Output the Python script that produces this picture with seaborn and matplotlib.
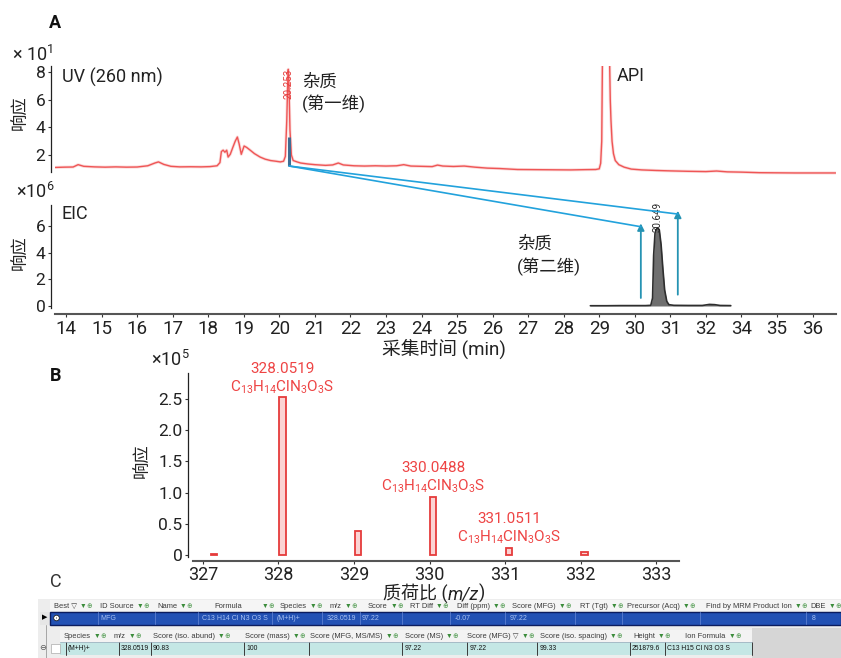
import matplotlib
matplotlib.use("Agg")
import matplotlib.pyplot as plt
from matplotlib.patches import ConnectionPatch, Rectangle, Circle
import seaborn as sns

# ---------------- data ----------------
# first dimension UV trace (x10^1)
uv_time = [13.70, 13.95, 14.20, 14.34, 14.50, 14.80, 15.10, 15.40, 15.70, 16.00,
           16.30, 16.50, 16.60, 16.75, 16.95, 17.20, 17.50, 17.80, 18.05, 18.25,
           18.33, 18.37, 18.42, 18.47, 18.52, 18.56, 18.62, 18.70, 18.76, 18.82,
           18.87, 18.93, 19.01, 19.08, 19.18, 19.30, 19.46, 19.60, 19.75, 19.90,
           20.03, 20.12, 20.17, 20.21, 20.24, 20.253, 20.27, 20.30, 20.34, 20.39,
           20.50, 20.60, 20.80, 21.00, 21.30, 21.50, 21.66, 21.80, 22.10, 22.40,
           22.70, 23.00, 23.30, 23.50, 23.70, 24.00, 24.30, 24.45, 24.60, 24.90,
           25.20, 25.50, 25.85, 26.20, 26.70, 27.20, 27.70, 28.20, 28.60, 28.90,
           29.00, 29.04, 29.07, 29.09, 29.15, 29.22, 29.27, 29.29, 29.31, 29.33,
           29.36, 29.40, 29.45, 29.55, 29.70, 29.90, 30.20, 30.60, 31.00, 31.50,
           32.00, 32.30, 32.60, 33.00, 33.50, 34.00, 34.50, 35.00, 35.65]
uv_signal = [1.10, 1.12, 1.13, 1.30, 1.18, 1.14, 1.12, 1.14, 1.12, 1.13,
             1.22, 1.42, 1.50, 1.32, 1.18, 1.14, 1.15, 1.14, 1.16, 1.22,
             1.45, 2.25, 2.35, 2.20, 2.35, 1.85, 2.05, 2.60, 3.00, 3.30,
             2.80, 2.05, 2.65, 2.55, 2.35, 2.10, 1.85, 1.70, 1.60, 1.55,
             1.50, 1.55, 1.90, 4.50, 7.60, 8.20, 7.20, 3.80, 2.00, 1.60,
             1.50, 1.42, 1.35, 1.30, 1.25, 1.28, 1.42, 1.28, 1.22, 1.20,
             1.22, 1.20, 1.22, 1.30, 1.20, 1.18, 1.16, 1.27, 1.20, 1.17,
             1.20, 1.12, 1.05, 1.02, 0.95, 0.94, 0.93, 0.92, 0.94, 0.95,
             1.00, 1.40, 3.00, 9.00, 20.0, 20.0, 14.0, 9.00, 6.00, 4.50,
             3.00, 2.10, 1.60, 1.30, 1.12, 0.98, 0.92, 0.88, 0.85, 0.82,
             0.80, 0.84, 0.78, 0.76, 0.72, 0.71, 0.70, 0.70, 0.70]

# second dimension extracted ion chromatogram (x10^6)
eic_time = [28.75, 29.20, 29.60, 30.00, 30.30, 30.45, 30.50, 30.53, 30.57, 30.61,
            30.649, 30.69, 30.74, 30.79, 30.84, 30.90, 30.96, 31.10, 31.50, 31.90,
            32.10, 32.25, 32.40, 32.70]
eic_signal = [0.02, 0.02, 0.03, 0.03, 0.03, 0.05, 0.60, 3.80, 5.50, 5.75,
              5.85, 5.70, 4.60, 2.80, 1.20, 0.35, 0.10, 0.05, 0.04, 0.04,
              0.12, 0.10, 0.04, 0.03]

uv_peak_rt = 20.253
eic_peak_rt = 30.649
cut_start_signal = 1.2
cut_top_signal = 3.3

rt_ticks = list(range(14, 36))
rt_tick_labels = [str(v) for v in range(14, 33)] + ["34", "35", "36"]
uv_ticks = [2, 4, 6, 8]
eic_ticks = [0, 2, 4, 6]

# mass spectrum (x10^5)
ms_mz = [327.15, 328.0519, 329.055, 330.0488, 331.0511, 332.05]
ms_intensity = [0.012, 2.519, 0.38, 0.93, 0.12, 0.05]
labelled_mz = [328.0519, 330.0488, 331.0511]
labelled_intensity = [2.519, 0.93, 0.12]
ion_formula = "C$_{13}$H$_{14}$ClN$_{3}$O$_{3}$S"
ms_xticks = [327, 328, 329, 330, 331, 332, 333]
ms_yticks = [0, 0.5, 1.0, 1.5, 2.0, 2.5]
ms_ytick_labels = ["0", "0.5", "1.0", "1.5", "2.0", "2.5"]

# results table
hdr_main = [(54, "Best ▽", 2), (100, "ID Source", 2), (157, "Name", 2), (214, "Formula", 14),
            (280, "Species", 2), (330, "m/z", 2), (368, "Score", 2), (410, "RT Diff", 2),
            (457, "Diff (ppm)", 2), (512, "Score (MFG)", 2), (580, "RT (Tgt)", 2),
            (627, "Precursor (Acq)", 2), (706, "Find by MRM Product Ion", 2), (810, "DBE", 2)]
row_main = [(100, "MFG"), (202, "C13 H14 Cl N3 O3 S"), (277, "(M+H)+"), (327, "328.0519"),
            (362, "97.22"), (455, "-0.07"), (510, "97.22"), (812, "8")]
row_main_seps = [98, 155, 198, 272, 322, 360, 402, 450, 505, 575, 622, 700, 806]
hdr_sub = [(64, "Species"), (114, "m/z"), (153, "Score (iso. abund)"), (245, "Score (mass)"),
           (310, "Score (MFG, MS/MS)"), (405, "Score (MS)"), (467, "Score (MFG) ▽"),
           (540, "Score (iso. spacing)"), (633, "Height"), (685, "Ion Formula")]
row_sub = [(68, "(M+H)+"), (121, "328.0519"), (153, "90.83"), (246, "100"), (405, "97.22"),
           (470, "97.22"), (540, "99.33"), (632, "251879.6"), (667, "C13 H15 Cl N3 O3 S")]
row_sub_seps = [66, 119, 151, 244, 309, 402, 467, 537, 630, 665, 752]

# ---------------- style ----------------
sns.set_theme(style="ticks")
plt.rcParams["font.family"] = ["Roboto", "Noto Sans CJK SC", "DejaVu Sans"]
plt.rcParams["mathtext.default"] = "regular"
plt.rcParams["axes.unicode_minus"] = False

W, H = 841, 658
fig = plt.figure(figsize=(W / 100, H / 100), dpi=100)
fig.patch.set_facecolor("white")

TXT = "#222222"
RED = "#ee4444"


def px_rect(l, t, r, b):
    return [l / W, 1 - b / H, (r - l) / W, (b - t) / H]


def ftext(x, y, s, **kw):
    kw.setdefault("color", TXT)
    return fig.text(x / W, 1 - y / H, s, **kw)


def style_axis(ax, left_out, bottom_out=None):
    ax.spines["top"].set_visible(False)
    ax.spines["right"].set_visible(False)
    ax.spines["left"].set_position(("outward", left_out))
    ax.spines["left"].set_color("#222222")
    ax.spines["left"].set_linewidth(0.9)
    if bottom_out is None:
        ax.spines["bottom"].set_visible(False)
        ax.tick_params(axis="x", bottom=False, labelbottom=False)
    else:
        ax.spines["bottom"].set_position(("outward", bottom_out))
        ax.spines["bottom"].set_color("#555555")
        ax.spines["bottom"].set_linewidth(1.5)
    ax.tick_params(axis="both", direction="out", length=2.5, width=0.8, color="#333333",
                   pad=1.5, labelcolor=TXT)
    ax.tick_params(axis="y", labelsize=12.5)
    ax.tick_params(axis="x", labelsize=13.5)
    ax.set_xlabel("")
    ax.set_ylabel("")
    ax.patch.set_alpha(0)


# ---------------- panel A: UV (first dimension) ----------------
ax_uv = fig.add_axes(px_rect(55, 66, 836, 176))
sns.lineplot(x=uv_time, y=uv_signal, ax=ax_uv, color="#f6b0b0", lw=2.2, alpha=0.45)
sns.lineplot(x=uv_time, y=uv_signal, ax=ax_uv, color="#ef5555", lw=1.0)
ax_uv.vlines(uv_peak_rt + 0.01, cut_start_signal, cut_top_signal, color="#3f6d93", lw=2.2, zorder=4)
ax_uv.set_xlim(13.69, 35.66)
ax_uv.set_ylim(0.48, 8.44)
ax_uv.set_yticks(uv_ticks)
style_axis(ax_uv, 2.9)
ax_uv.spines["left"].set_bounds(0.77, 8.44)
ax_uv.text(uv_peak_rt, 7.15, f"{uv_peak_rt:.3f}", rotation=90, ha="center", va="center",
           fontsize=7, color="#e53b3b")

# ---------------- panel A: EIC (second dimension) ----------------
ax_eic = fig.add_axes(px_rect(55, 205, 836, 308))
ax_eic.fill_between(eic_time, eic_signal, 0, color="#6f6f6f", lw=0)
sns.lineplot(x=eic_time, y=eic_signal, ax=ax_eic, color="#2e2e2e", lw=1.2)
ax_eic.set_xlim(13.69, 35.66)
ax_eic.set_ylim(-0.15, 7.58)
ax_eic.set_yticks(eic_ticks)
ax_eic.set_xticks(rt_ticks)
ax_eic.set_xticklabels(rt_tick_labels)
style_axis(ax_eic, 2.9, 4.3)
ax_eic.text(eic_peak_rt, 6.65, f"{eic_peak_rt:.3f}", rotation=90, ha="center", va="center",
            fontsize=7, color="#222222")

# heart-cut transfer lines and arrows
targets = [(30.17, 5.95), (31.21, 6.9)]
for tx, ty in targets:
    con = ConnectionPatch(xyA=(uv_peak_rt + 0.03, cut_start_signal), coordsA=ax_uv.transData,
                          xyB=(tx, ty), coordsB=ax_eic.transData, color="#22a2dc", lw=1.2)
    fig.add_artist(con)
arrow_bases = [0.6, 0.85]
for (tx, ty), base in zip(targets, arrow_bases):
    ax_eic.annotate("", xy=(tx, ty + 0.25), xytext=(tx, base), annotation_clip=False,
                    arrowprops=dict(arrowstyle="-|>", color="#2593b3", lw=1.3,
                                    mutation_scale=10, shrinkA=0, shrinkB=0))

# panel A labels
ftext(49, 23, "A", fontsize=13, fontweight="bold", ha="left", va="center", color="#111111")
ftext(12, 55, "× 10$^{1}$", fontsize=13, ha="left", va="center")
ftext(62, 77, "UV (260 nm)", fontsize=13, ha="left", va="center")
ftext(21, 113, "响应", fontsize=12.5, rotation=90, ha="center", va="center")
ftext(302, 82, "杂质", fontsize=12.5, ha="left", va="center")
ftext(302, 104, "(第一维)", fontsize=12.5, ha="left", va="center")
ftext(617, 76, "API", fontsize=13, ha="left", va="center")
ftext(16, 192, "×10$^{6}$", fontsize=13, ha="left", va="center")
ftext(62, 214, "EIC", fontsize=13, ha="left", va="center")
ftext(21, 253, "响应", fontsize=12.5, rotation=90, ha="center", va="center")
ftext(517, 244, "杂质", fontsize=12.5, ha="left", va="center")
ftext(517, 267, "(第二维)", fontsize=12.5, ha="left", va="center")
ftext(444, 349, "采集时间 (min)", fontsize=13.5, ha="center", va="center")

# ---------------- panel B: mass spectrum ----------------
ax_ms = fig.add_axes(px_rect(193, 373, 679, 557))
ax_ms.bar(ms_mz, ms_intensity, width=0.085, facecolor="#fbd3d3", edgecolor="#e53b3b", lw=1.3,
          zorder=3)
ax_ms.set_xlim(326.87, 333.3)
ax_ms.set_ylim(-0.03, 2.91)
ax_ms.set_xticks(ms_xticks)
ax_ms.set_yticks(ms_yticks)
ax_ms.set_yticklabels(ms_ytick_labels)
style_axis(ax_ms, 3.6, 2.9)
ax_ms.tick_params(axis="x", labelsize=13, pad=1.0)
for mz, inten in zip(labelled_mz, labelled_intensity):
    ax_ms.annotate(ion_formula, xy=(mz, inten), xytext=(0, 7.5), textcoords="offset points",
                   ha="center", va="center", fontsize=11, color=RED, annotation_clip=False)
    ax_ms.annotate(f"{mz:.4f}", xy=(mz, inten), xytext=(0, 20.5), textcoords="offset points",
                   ha="center", va="center", fontsize=11, color=RED, annotation_clip=False)

ftext(50, 376, "B", fontsize=13, fontweight="bold", ha="left", va="center", color="#111111")
ftext(151, 360, "×10$^{5}$", fontsize=13, ha="left", va="center")
ftext(143, 461, "响应", fontsize=12.5, rotation=90, ha="center", va="center")
t1 = ftext(383, 599, "质荷比 (", fontsize=13, ha="left", va="baseline")
t2 = ax_ms.annotate("m/z", xy=(1, 0), xycoords=t1, ha="left", va="bottom", fontsize=13,
                    style="italic", color=TXT, annotation_clip=False)
ax_ms.annotate(")", xy=(1, 0), xycoords=t2, ha="left", va="bottom", fontsize=13,
               color=TXT, annotation_clip=False)
ftext(50, 582, "C", fontsize=13, ha="left", va="center", color="#333333")

# ---------------- panel C: results table ----------------
tab = fig.add_axes([0, 0, 1, 1], zorder=-1)
tab.set_xlim(0, W)
tab.set_ylim(H, 0)
tab.axis("off")
TFONT = ["Liberation Sans", "DejaVu Sans"]
TS = 5.4


def box(x0, y0, x1, y1, fc, ec="none", lw=0):
    tab.add_patch(Rectangle((x0, y0), x1 - x0, y1 - y0, facecolor=fc, edgecolor=ec, lw=lw))


def cell(x, y, s, color, gap=None, size=TS):
    t = tab.text(x, y, s, ha="left", va="center", fontsize=size, color=color, family=TFONT)
    if gap is not None:
        tab.annotate("▼", xy=(1, 0.5), xycoords=t, xytext=(gap, 0), textcoords="offset points",
                     ha="left", va="center", fontsize=size - 0.5, color="#3b8c3b", family=TFONT)
        tab.annotate("⊕", xy=(1, 0.5), xycoords=t, xytext=(gap + 5, 0), textcoords="offset points",
                     ha="left", va="center", fontsize=size - 0.5, color="#4f9a4f", family=TFONT)
    return t


box(38, 599, W, H, "#ededed")
box(50, 600, W, 611, "#f5f5f5")
for x, s, g in hdr_main:
    cell(x, 606, s, "#3a3a3a", g)

# highlighted top-level row
box(40, 611.5, 50, 624.5, "#e6e6e6")
box(50, 611.5, W, 624.5, "#2251b4", ec="#0b1c5e", lw=1.0)
tab.text(45, 618, "▶", ha="center", va="center", fontsize=5, color="black", family=TFONT)
tab.add_patch(Circle((56.5, 618), 2.8, facecolor="white", edgecolor="#222222", lw=0.6, zorder=3))
tab.add_patch(Circle((56.5, 618), 1.2, facecolor="black", zorder=4))
for x in row_main_seps:
    tab.plot([x, x], [612, 624], color="#5c7fd0", lw=0.6)
for x, s in row_main:
    cell(x, 618, s, "#a9c2f3", size=5.0)

# expanded child rows
tab.plot([46, 46], [625, H], color="#9a9a9a", lw=0.6)
box(60, 630, 752, 641.5, "#f3f3f3")
box(752, 628, W, H, "#d6d6d6")
for x, s in hdr_sub:
    cell(x, 636, s, "#3a3a3a", 2)
box(60, 641.5, 752, 655, "#c4e7e5")
for x in row_sub_seps:
    tab.plot([x, x], [642, 655], color="#3a3a3a", lw=0.7)
tab.plot([60, 752], [641.5, 641.5], color="#99aabb", lw=0.5)
tab.text(43, 648.5, "⊖", ha="center", va="center", fontsize=6, color="#555555", family=TFONT)
box(51, 643.5, 60, 653, "white", ec="#aaaaaa", lw=0.5)
for x, s in row_sub:
    cell(x, 648.5, s, "#111111", size=4.9)

fig.savefig("out.png", dpi=100)
